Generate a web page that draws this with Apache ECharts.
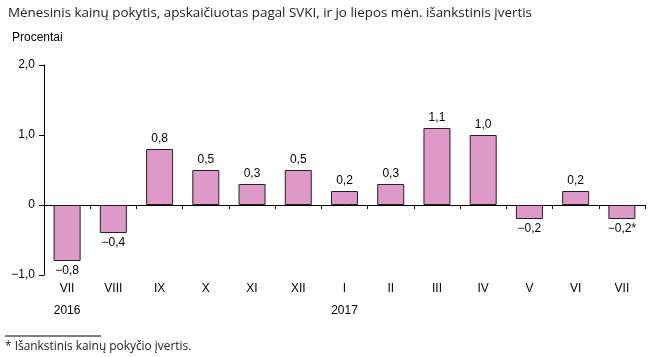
<!DOCTYPE html>
<html><head><meta charset="utf-8">
<script src="https://cdn.jsdelivr.net/npm/echarts@6/dist/echarts.min.js"></script>
<style>html,body{margin:0;padding:0;background:#fff}#c{width:668px;height:357px}</style>
</head><body><div id="c"></div>
<script>
const categories = ['VII','VIII','IX','X','XI','XII','I','II','III','IV','V','VI','VII'];
const years = ['2016','','','','','','2017','','','','','',''];
const values = [-0.8,-0.4,0.8,0.5,0.3,0.5,0.2,0.3,1.1,1.0,-0.2,0.2,-0.2];
const valueSuffix = ['','','','','','','','','','','','','*'];
const yTicks = {'2': '2,0', '1': '1,0', '0': '0', '-1': '\u22121,0'};

function fmt(v){ const s = Math.abs(v).toFixed(1).replace('.', ','); return (v<0?'\u2212':'')+s; }

const chart = echarts.init(document.getElementById('c'));
chart.setOption({
  animation:false,
  textStyle:{fontFamily:'Liberation Sans, Arial, sans-serif'},
  title:{text:'Mėnesinis kainų pokytis, apskaičiuotas pagal SVKI, ir jo liepos mėn. išankstinis įvertis',left:3,top:2,
    textStyle:{fontFamily:'Open Sans',fontSize:13.4,fontWeight:'normal',color:'#222'}},
  grid:{left:44,right:23,top:65,bottom:82},
  xAxis:[
    {type:'category',data:categories,axisLine:{onZero:true,lineStyle:{color:'#000',width:1}},
     axisTick:{show:true,inside:false,length:4,lineStyle:{color:'#000'}},axisLabel:{show:false},splitLine:{show:false}},
    {type:'category',data:categories,position:'bottom',axisLine:{show:false,onZero:false},axisTick:{show:false},
     axisLabel:{color:'#000',fontSize:12,margin:8,fontFamily:'Liberation Sans'}},
    {type:'category',data:years,position:'bottom',offset:22,axisLine:{show:false,onZero:false},axisTick:{show:false},
     axisLabel:{color:'#000',fontSize:12,margin:8,interval:0,fontFamily:'Liberation Sans'}}
  ],
  yAxis:{type:'value',min:-1,max:2,interval:1,
    name:'Procentai',nameLocation:'end',nameGap:21,nameTextStyle:{color:'#000',fontSize:12,align:'left',padding:[0,0,0,-32],fontFamily:'Liberation Sans'},
    axisLine:{show:true,lineStyle:{color:'#000'}},axisTick:{show:true,length:5,lineStyle:{color:'#000'}},
    splitLine:{show:false},
    axisLabel:{color:'#000',fontSize:12,margin:9,formatter:v=>yTicks[String(v)]}},
  series:[{type:'bar',xAxisIndex:0,barWidth:27,
    data:values.map((v,i)=>({value:v,label:{position:v<0?'bottom':'top'}})),
    itemStyle:{color:'#de99c8',borderColor:'#222',borderWidth:1},
    label:{show:true,color:'#000',fontSize:12,distance:4,fontFamily:'Liberation Sans',
      formatter:p=>fmt(p.value)+valueSuffix[p.dataIndex]}}],
  graphic:[
    {type:'line',shape:{x1:5,y1:336,x2:101,y2:336},style:{stroke:'#000',lineWidth:1}},
    {type:'text',left:5,top:341,style:{text:'* Išankstinis kainų pokyčio įvertis.',fontFamily:'Open Sans',fontSize:11.9,fill:'#222'}}
  ]
});
</script></body></html>
